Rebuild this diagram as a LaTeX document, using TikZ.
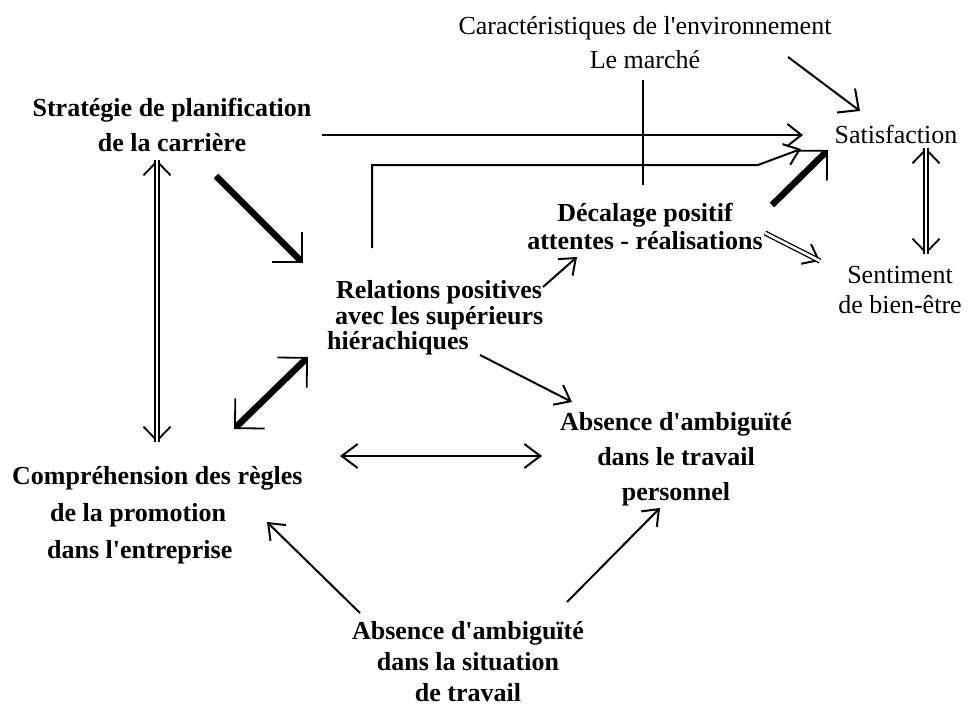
\documentclass[tikz,border=0pt]{standalone}
\usepackage{fontspec}
\newfontfamily\rs{Liberation Serif}
\usetikzlibrary{arrows.meta}
\begin{document}
\begin{tikzpicture}[x=1pt,y=-1pt,
  lbl/.style={inner sep=0pt, align=center, font=\rs\fontsize{26}{34}\selectfont},
  blbl/.style={inner sep=0pt, align=center, font=\rs\fontsize{26}{35}\selectfont\bfseries},
  thinarr/.style={line width=2pt, -{Straight Barb[length=14pt,width=22pt]}},
  thinarrb/.style={line width=2pt, {Straight Barb[length=16pt,width=24pt]}-{Straight Barb[length=16pt,width=24pt]}},
  dblarrb/.style={line width=1.8pt, {Straight Barb[length=14pt,width=27pt]}-{Straight Barb[length=14pt,width=27pt]}},
  diagarr/.style={line width=2pt, -{Straight Barb[length=16pt,width=30pt]}},
  rightarr/.style={line width=1.8pt, -{Straight Barb[length=21pt,width=42pt]}},
  rightarrb/.style={line width=1.8pt, {Straight Barb[length=21pt,width=42pt]}-{Straight Barb[length=21pt,width=42pt]}},
  thickline/.style={line width=6.5pt},
  dbl/.style={line width=1.3pt, double, double distance=2.6pt},
  plain/.style={line width=2pt}
]
\useasboundingbox (0,0) rectangle (969,706);

% nodes
\node[lbl] (car) at (645,43) {Caractéristiques de l'environnement\\Le marché};
\node[blbl] (strat) at (172,125) {Stratégie de planification\\de la carrière};
\node[lbl] (sat) at (896,134) {Satisfaction};
\node[lbl, font=\rs\fontsize{26}{30}\selectfont] (sent) at (900,290) {Sentiment\\de bien-être};
\node[blbl, font=\rs\fontsize{26}{28}\selectfont\bfseries] (dec) at (645,226) {Décalage positif\\attentes - réalisations};
\node[blbl, align=left, anchor=west, font=\rs\fontsize{26}{25.5}\selectfont\bfseries] (rel) at (327,318) {\hspace*{9pt}Relations positives\\\hspace*{8pt}avec les supérieurs\\hiérachiques};
\node[blbl] (absr) at (676,459) {Absence d'ambiguïté\\dans le travail\\personnel};
\node[blbl, align=left, anchor=west, font=\rs\fontsize{26}{37}\selectfont\bfseries] (comp) at (12,515) {Compréhension des règles\\\hspace*{38pt}de la promotion\\\hspace*{35pt}dans l'entreprise};
\node[blbl, font=\rs\fontsize{26}{31}\selectfont\bfseries] (absb) at (468,662) {Absence d'ambiguïté\\dans la situation\\de travail};

% connector end points
\coordinate (stratE) at (322,135);
\coordinate (satW1) at (803,135);
\coordinate (relN) at (372,248);
\coordinate (bendA) at (372,165);
\coordinate (bendB) at (758,165);
\coordinate (satW2) at (801,149);
\coordinate (marT) at (643,80);
\coordinate (marB) at (643,185);
\coordinate (carE) at (788,57);
\coordinate (satN) at (860,111);
\coordinate (decNE) at (772,205);
\coordinate (satSW) at (828,150);
\coordinate (decE) at (765,233);
\coordinate (sentW) at (820,261);
\coordinate (satS) at (926,148);
\coordinate (sentN) at (926,254);
\coordinate (relNE) at (543,287);
\coordinate (decSW) at (577,257);
\coordinate (stratSE) at (216,176);
\coordinate (relNW) at (303,263);
\coordinate (stratS) at (157,160);
\coordinate (compN) at (157,442);
\coordinate (relSW) at (308,357);
\coordinate (compNE) at (234,429);
\coordinate (relSE) at (480,355);
\coordinate (absrNW) at (572,402);
\coordinate (compE) at (340,456);
\coordinate (absrW) at (542,456);
\coordinate (absbNW) at (360,613);
\coordinate (compSE) at (267,522);
\coordinate (absbNE) at (567,602);
\coordinate (absrS) at (660,508);

% connectors
\draw[thinarr] (stratE) -- (satW1);
\draw[thinarr] (relN) -- (bendA) -- (bendB) -- (satW2);
\draw[plain] (marT) -- (marB);
\draw[diagarr] (carE) -- (satN);
\draw[thickline, shorten >=4pt] (decNE) -- (satSW);
\draw[rightarr] (decNE) -- (satSW);
\draw[thinarr] (decE) -- (sentW);
\draw[dbl] (decE) -- (sentW);
\draw[dblarrb] (satS) -- (sentN);
\draw[dbl] (satS) -- (sentN);
\draw[thinarr] (relNE) -- (decSW);
\draw[thickline, shorten >=4pt] (stratSE) -- (relNW);
\draw[rightarr] (stratSE) -- (relNW);
\draw[dblarrb] (stratS) -- (compN);
\draw[dbl] (stratS) -- (compN);
\draw[thickline, shorten >=4pt, shorten <=4pt] (relSW) -- (compNE);
\draw[rightarrb] (relSW) -- (compNE);
\draw[thinarr] (relSE) -- (absrNW);
\draw[thinarrb] (compE) -- (absrW);
\draw[thinarr] (absbNW) -- (compSE);
\draw[thinarr] (absbNE) -- (absrS);
\end{tikzpicture}
\end{document}
